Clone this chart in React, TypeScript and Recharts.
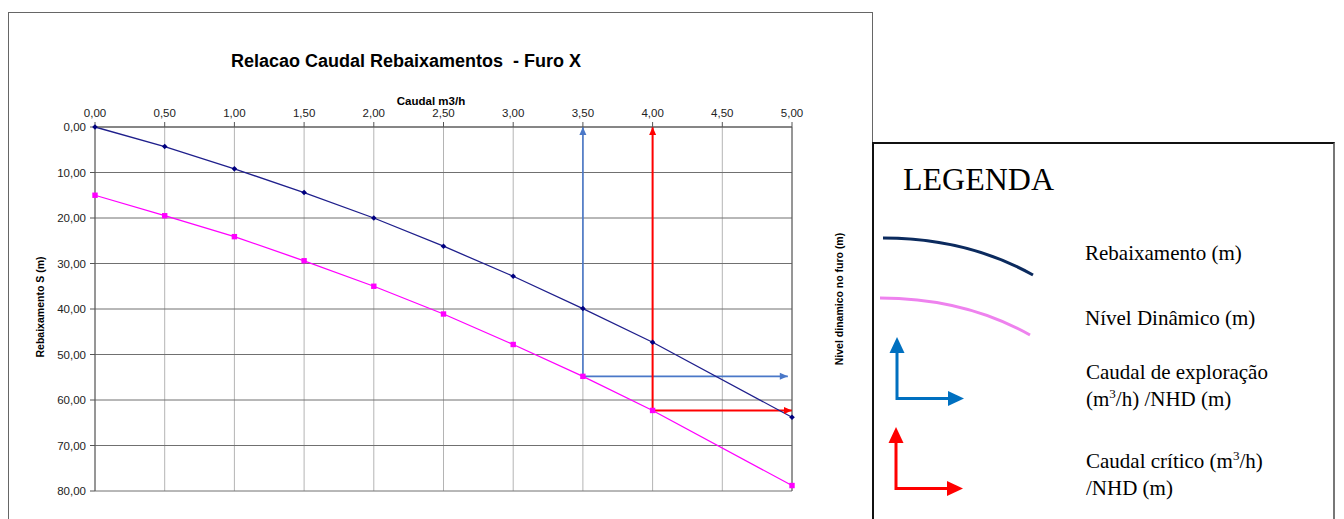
import { CartesianGrid, Line, LineChart, XAxis, YAxis } from "recharts";

const CAUDAL = [0, 0.5, 1, 1.5, 2, 2.5, 3, 3.5, 4, 5];
const REBAIXAMENTO = [0, 4.3, 9.2, 14.4, 20.0, 26.2, 32.8, 39.9, 47.3, 63.8];
const NIVEL_DINAMICO = [15.0, 19.5, 24.1, 29.4, 35.0, 41.1, 47.8, 54.8, 62.3, 78.8];

const X_TICKS = [0, 0.5, 1, 1.5, 2, 2.5, 3, 3.5, 4, 4.5, 5];
const Y_TICKS = [0, 10, 20, 30, 40, 50, 60, 70, 80];

// caudal de exploração / crítico e o NHD correspondente
const CAUDAL_EXPLORACAO = 3.5;
const NHD_EXPLORACAO = 54.8;
const FIM_EXPLORACAO = 4.97;
const CAUDAL_CRITICO = 4.0;
const NHD_CRITICO = 62.3;
const FIM_CRITICO = 5.0;

const TITLE = "Relacao Caudal Rebaixamentos  - Furo X";

const SANS = "'Liberation Sans', Arial, sans-serif";
const SERIF = "'Liberation Serif', 'Times New Roman', serif";

const BLUE = "#4a78c8";
const RED = "#ff0000";

const AXIS_PROPS = {
  stroke: "#555",
  tick: { fontSize: 11.5, fill: "#222", fontFamily: SANS },
  tickSize: 5,
  tickMargin: 4,
} as const;

type Head = "up" | "right";
type ArrowRow = { q: number; v: number; head?: Head };

const rows = CAUDAL.map((q, i) => ({ q, s: REBAIXAMENTO[i], n: NIVEL_DINAMICO[i] }));

const exploracaoV: ArrowRow[] = [
  { q: CAUDAL_EXPLORACAO, v: NHD_EXPLORACAO },
  { q: CAUDAL_EXPLORACAO, v: 0, head: "up" },
];
const exploracaoH: ArrowRow[] = [
  { q: CAUDAL_EXPLORACAO, v: NHD_EXPLORACAO },
  { q: FIM_EXPLORACAO, v: NHD_EXPLORACAO, head: "right" },
];
const criticoV: ArrowRow[] = [
  { q: CAUDAL_CRITICO, v: NHD_CRITICO },
  { q: CAUDAL_CRITICO, v: 0, head: "up" },
];
const criticoH: ArrowRow[] = [
  { q: CAUDAL_CRITICO, v: NHD_CRITICO },
  { q: FIM_CRITICO, v: NHD_CRITICO, head: "right" },
];

const fmt = (v: number) => v.toFixed(2).replace(".", ",");

function arrowDot(color: string) {
  return (p: { cx?: number; cy?: number; index?: number; payload?: ArrowRow }) => {
    const { cx = 0, cy = 0, payload } = p;
    if (!payload?.head) return <g key={`n-${p.index}`} />;
    const pts =
      payload.head === "up"
        ? `${cx},${cy} ${cx - 3.5},${cy + 8} ${cx + 3.5},${cy + 8}`
        : `${cx},${cy} ${cx - 8},${cy - 3.5} ${cx - 8},${cy + 3.5}`;
    return <polygon key={`h-${p.index}`} points={pts} fill={color} />;
  };
}

function diamondDot(p: { cx?: number; cy?: number; index?: number }) {
  const { cx = 0, cy = 0 } = p;
  return (
    <polygon
      key={`d-${p.index}`}
      points={`${cx},${cy - 2.8} ${cx + 2.8},${cy} ${cx},${cy + 2.8} ${cx - 2.8},${cy}`}
      fill="#000080"
    />
  );
}

function squareDot(p: { cx?: number; cy?: number; index?: number }) {
  const { cx = 0, cy = 0 } = p;
  return <rect key={`s-${p.index}`} x={cx - 2.7} y={cy - 2.7} width={5.4} height={5.4} fill="#ff00ff" />;
}

function Legend() {
  return (
    <svg width={1344} height={519} style={{ position: "absolute", left: 0, top: 0 }}>
      <text x={903} y={190} fontFamily={SERIF} fontSize={32} fill="#000">
        LEGENDA
      </text>
      <path d="M883,238 Q967,238 1033,275" fill="none" stroke="#0b2a5e" strokeWidth={3} />
      <text x={1085} y={260} fontFamily={SERIF} fontSize={21} fill="#000">
        Rebaixamento (m)
      </text>
      <path d="M880,298 Q964,298 1030,335" fill="none" stroke="#ee82ee" strokeWidth={3} />
      <text x={1085} y={325} fontFamily={SERIF} fontSize={21} fill="#000">
        Nível Dinâmico (m)
      </text>

      <g stroke="#0070c0" strokeWidth={3} fill="none">
        <polyline points="897,350 897,398.5 950,398.5" />
      </g>
      <polygon points="897,337 889.5,353 904.5,353" fill="#0070c0" />
      <polygon points="964,398.5 948,391 948,406" fill="#0070c0" />
      <text x={1086} y={379} fontFamily={SERIF} fontSize={21} fill="#000">
        Caudal de exploração
      </text>
      <text x={1086} y={406} fontFamily={SERIF} fontSize={21} fill="#000">
        (m<tspan dy={-8} fontSize={13}>3</tspan>
        <tspan dy={8}>/h) /NHD (m)</tspan>
      </text>

      <g stroke="#ff0000" strokeWidth={3} fill="none">
        <polyline points="896,440 896,488.5 949,488.5" />
      </g>
      <polygon points="896,427 888.5,443 903.5,443" fill="#ff0000" />
      <polygon points="963,488.5 947,481 947,496" fill="#ff0000" />
      <text x={1086} y={468} fontFamily={SERIF} fontSize={21} fill="#000">
        Caudal crítico (m<tspan dy={-8} fontSize={13}>3</tspan>
        <tspan dy={8}>/h)</tspan>
      </text>
      <text x={1086} y={495} fontFamily={SERIF} fontSize={21} fill="#000">
        /NHD (m)
      </text>
    </svg>
  );
}

export default function App() {
  return (
    <div
      style={{
        position: "fixed",
        left: 0,
        top: 0,
        width: 1344,
        height: 519,
        overflow: "hidden",
        background: "#fff",
      }}
    >
      <div
        style={{
          position: "absolute",
          left: 8,
          top: 12,
          width: 863,
          height: 520,
          border: "1px solid #666",
        }}
      />
      <div
        style={{
          position: "absolute",
          left: 872,
          top: 142,
          width: 459,
          height: 400,
          borderTop: "2px solid #111",
          borderLeft: "2px solid #111",
          borderRight: "2px solid #777",
        }}
      />

      <div style={{ position: "absolute", left: 0, top: 0 }}>
        <LineChart
          width={872}
          height={519}
          data={rows}
          margin={{ top: 107, right: 30, bottom: 28, left: 45 }}
        >
          <CartesianGrid horizontal={false} stroke="#b4b4b4" strokeWidth={1} />
          <CartesianGrid vertical={false} stroke="#707070" strokeWidth={1} />
          <XAxis
            dataKey="q"
            type="number"
            orientation="top"
            domain={[0, 5]}
            ticks={X_TICKS}
            tickFormatter={fmt}
            height={20}
            {...AXIS_PROPS}
            tickMargin={5}
          />
          <YAxis
            type="number"
            domain={[0, 80]}
            reversed
            ticks={Y_TICKS}
            tickFormatter={fmt}
            width={50}
            {...AXIS_PROPS}
          />
          <YAxis
            yAxisId="right"
            orientation="right"
            type="number"
            domain={[0, 80]}
            reversed
            ticks={Y_TICKS}
            tickFormatter={fmt}
            width={50}
            {...AXIS_PROPS}
          />
          <Line data={exploracaoV} dataKey="v" stroke={BLUE} strokeWidth={1.6} dot={arrowDot(BLUE)} isAnimationActive={false} />
          <Line data={exploracaoH} dataKey="v" stroke={BLUE} strokeWidth={1.6} dot={arrowDot(BLUE)} isAnimationActive={false} />
          <Line data={criticoV} dataKey="v" stroke={RED} strokeWidth={2} dot={arrowDot(RED)} isAnimationActive={false} />
          <Line data={criticoH} dataKey="v" stroke={RED} strokeWidth={2} dot={arrowDot(RED)} isAnimationActive={false} />
          <Line
            dataKey="s"
            type="linear"
            stroke="#1f1f8c"
            strokeWidth={1.3}
            dot={diamondDot}
            isAnimationActive={false}
          />
          <Line
            dataKey="n"
            type="linear"
            stroke="#ff00ff"
            strokeWidth={1.3}
            dot={squareDot}
            isAnimationActive={false}
          />
        </LineChart>
      </div>

      <svg width={872} height={519} style={{ position: "absolute", left: 0, top: 0, pointerEvents: "none" }}>
        <text
          x={406}
          y={67}
          textAnchor="middle"
          fontFamily={SANS}
          fontWeight="bold"
          fontSize={18}
          fill="#000"
          style={{ whiteSpace: "pre" }}
        >
          {TITLE}
        </text>
        <text x={431} y={105} textAnchor="middle" fontFamily={SANS} fontWeight="bold" fontSize={11.5} fill="#000">
          Caudal m3/h
        </text>
        <text
          transform="translate(44,307) rotate(-90)"
          textAnchor="middle"
          fontFamily={SANS}
          fontWeight="bold"
          fontSize={10.5}
          fill="#000"
        >
          Rebaixamento S (m)
        </text>
        <text
          transform="translate(843,299) rotate(-90)"
          textAnchor="middle"
          fontFamily={SANS}
          fontWeight="bold"
          fontSize={10.5}
          fill="#000"
        >
          Nivel dinamico no furo (m)
        </text>
      </svg>

      <Legend />
    </div>
  );
}
